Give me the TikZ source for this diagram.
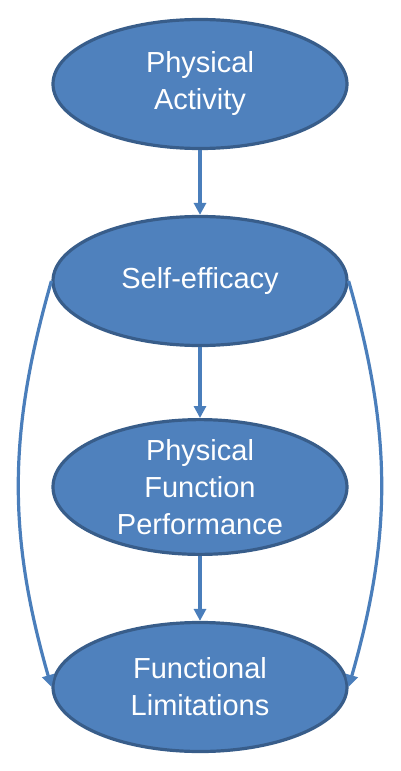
\documentclass[tikz,border=0pt]{standalone}
\usepackage{fontspec}
\setmainfont{Liberation Sans}
\usetikzlibrary{shapes.geometric, arrows.meta}
\definecolor{ovalfill}{HTML}{4F81BD}
\definecolor{ovaledge}{HTML}{385D8A}
\definecolor{linkblue}{HTML}{4A7EBB}
\tikzset{oval/.style = {ellipse, draw = ovaledge, line width = 3.2pt, fill = ovalfill, text = white, minimum width = 294, minimum height = 129, inner sep = 0, align = center, font = \fontsize{29}{37}\selectfont}}
\tikzset{link/.style = {draw = linkblue, line width = 3.2pt, -{Triangle[width = 12, length = 12]}}}

\begin{document}
\begin{tikzpicture}[x = 1pt, y = -1pt]
    \useasboundingbox (0, 0) rectangle (400, 771);

    \node [oval] (activity) at (200, 84) {Physical\\Activity};
    \node [oval] (efficacy) at (200, 281) {Self-efficacy};
    \node [oval] (performance) at (200, 487) {Physical\\Function\\Performance};
    \node [oval] (limits) at (200, 687) {Functional\\Limitations};

    \draw [link] (activity) -- (efficacy);
    \draw [link] (efficacy) -- (performance);
    \draw [link] (performance) -- (limits);

    % side paths
    \draw [link] (efficacy.west) to [out = -106, in = 106] (limits.west);
    \draw [link] (efficacy.east) to [out = -74, in = 74] (limits.east);
  \end{tikzpicture}
\end{document}
